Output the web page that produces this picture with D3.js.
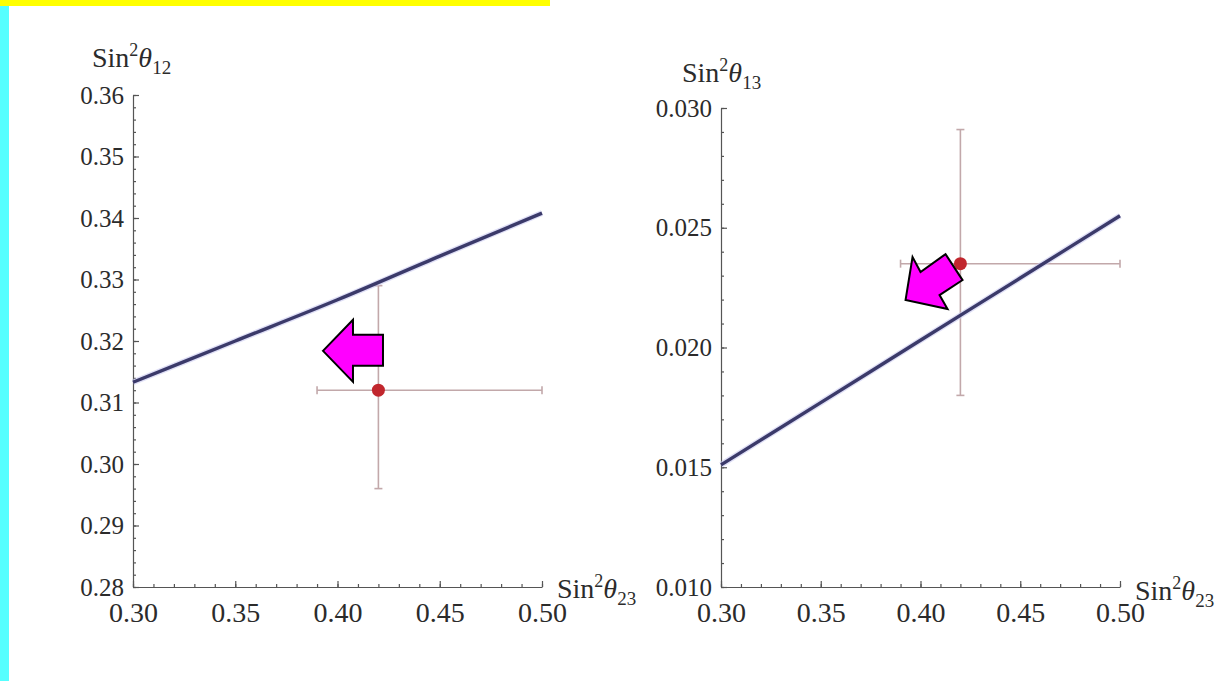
<!DOCTYPE html>
<html>
<head>
<meta charset="utf-8">
<script src="https://cdn.jsdelivr.net/npm/d3@7"></script>
<style>
  body { margin: 0; background: #fff; }
  svg { display: block; }
  text { font-family: "Liberation Serif", "DejaVu Serif", serif; fill: #2b2b2b; }
</style>
</head>
<body>
<svg id="chart" width="1232" height="681"></svg>
<script>
// shared x variable: sin^2 theta23
const s23Values = [0.30, 0.35, 0.40, 0.45, 0.50];
const s23Ticks = [0.30, 0.35, 0.40, 0.45, 0.50];

// left panel: sin^2 theta12 prediction
const s12Curve = [0.3133, 0.3200, 0.3267, 0.3338, 0.3408];
const s12Ticks = [0.28, 0.29, 0.30, 0.31, 0.32, 0.33, 0.34, 0.35, 0.36];

// right panel: sin^2 theta13 prediction
const s13Curve = [0.0151, 0.0177, 0.0203, 0.0229, 0.0255];
const s13Ticks = [0.010, 0.015, 0.020, 0.025, 0.030];

// experimental best fit with ranges
const fit23 = 0.42, fit23Range = [0.39, 0.50];
const fit12 = 0.312, fit12Range = [0.296, 0.329];
const fit13 = 0.0235, fit13Range = [0.018, 0.0291];

// arrow annotation tips (data coords)
const arrowTip12 = [0.3929, 0.3184];
const arrowTip13 = [0.3925, 0.02198];

const svg = d3.select("#chart");

// slide decorations
svg.append("rect").attr("x", 0).attr("y", 0).attr("width", 550).attr("height", 6).attr("fill", "#ffff00");
svg.append("rect").attr("x", 0).attr("y", 6).attr("width", 9).attr("height", 675).attr("fill", "#55ffff");

function minorTicks(domain, step) {
    const out = [];
    const n = Math.round((domain[1] - domain[0]) / step);
    for (let i = 0; i <= n; i++) out.push(+(domain[0] + i * step).toFixed(5));
    return out;
}

function drawPanel(p) {
    const x = d3.scaleLinear().domain([0.30, 0.50]).range(p.xRange);
    const y = d3.scaleLinear().domain(p.yDomain).range(p.yRange);
    const g = svg.append("g");

    // minor ticks
    g.append("g")
        .attr("transform", `translate(0,${p.yRange[0]})`)
        .call(d3.axisBottom(x).tickValues(minorTicks([0.30, 0.50], 0.01)).tickFormat("").tickSize(-3).tickSizeOuter(0))
        .call(a => a.select(".domain").remove());
    g.append("g")
        .attr("transform", `translate(${p.xRange[0]},0)`)
        .call(d3.axisLeft(y).tickValues(minorTicks(p.yDomain, p.yMinor)).tickFormat("").tickSize(-3).tickSizeOuter(0))
        .call(a => a.select(".domain").remove());

    // major axes
    const xAxis = g.append("g")
        .attr("transform", `translate(0,${p.yRange[0]})`)
        .call(d3.axisBottom(x).tickValues(s23Ticks).tickFormat(d3.format(".2f")).tickSize(-6).tickSizeOuter(0).tickPadding(15));
    xAxis.selectAll("text").attr("font-size", 28).attr("fill", "#2b2b2b")
        .attr("font-family", "Liberation Serif").attr("dy", "0.72em");

    const yAxis = g.append("g")
        .attr("transform", `translate(${p.xRange[0]},0)`)
        .call(d3.axisLeft(y).tickValues(p.yTicks).tickFormat(d3.format(p.yFmt)).tickSize(-6).tickSizeOuter(0).tickPadding(9));
    yAxis.selectAll("text").attr("font-size", 25).attr("fill", "#2b2b2b")
        .attr("font-family", "Liberation Serif");

    g.selectAll(".domain, .tick line").attr("stroke", "#555").attr("stroke-width", 1.2);

    // axis titles
    const yt = g.append("text").attr("x", p.yTitle[0]).attr("y", p.yTitle[1]).attr("font-size", 28);
    yt.append("tspan").text("Sin");
    yt.append("tspan").attr("dy", -11).attr("font-size", 18).text("2");
    yt.append("tspan").attr("dy", 11).attr("font-style", "italic").text("θ");
    yt.append("tspan").attr("dy", 7).attr("font-size", 19).text(p.sub);

    const xt = g.append("text").attr("x", p.xTitle[0]).attr("y", p.xTitle[1]).attr("font-size", 28);
    xt.append("tspan").text("Sin");
    xt.append("tspan").attr("dy", -11).attr("font-size", 18).text("2");
    xt.append("tspan").attr("dy", 11).attr("font-style", "italic").text("θ");
    xt.append("tspan").attr("dy", 7).attr("font-size", 19).text("23");

    // error bars
    const eb = g.append("g").attr("stroke", "#c2a8aa").attr("stroke-width", 1.6);
    eb.append("line").attr("x1", x(fit23Range[0])).attr("x2", x(fit23Range[1]))
        .attr("y1", y(p.fit)).attr("y2", y(p.fit));
    eb.append("line").attr("x1", x(fit23)).attr("x2", x(fit23))
        .attr("y1", y(p.fitRange[0])).attr("y2", y(p.fitRange[1]));
    fit23Range.forEach(v => eb.append("line").attr("x1", x(v)).attr("x2", x(v))
        .attr("y1", y(p.fit) - 4).attr("y2", y(p.fit) + 4));
    p.fitRange.forEach(v => eb.append("line").attr("x1", x(fit23) - 4).attr("x2", x(fit23) + 4)
        .attr("y1", y(v)).attr("y2", y(v)));

    // prediction curve
    const line = d3.line().x((d, i) => x(s23Values[i])).y(d => y(d)).curve(d3.curveMonotoneX);
    g.append("path").datum(p.curve)
        .attr("d", line).attr("fill", "none")
        .attr("stroke", "#c9c9f0").attr("stroke-width", 6).attr("stroke-opacity", 0.6);
    g.append("path").datum(p.curve)
        .attr("d", line).attr("fill", "none")
        .attr("stroke", "#3b3a6a").attr("stroke-width", 3.4);

    // best fit dot
    g.append("circle").attr("cx", x(fit23)).attr("cy", y(p.fit)).attr("r", 6.5).attr("fill", "#c1262d");

    // arrow annotation
    g.append("polygon")
        .attr("transform", `translate(${x(p.arrowTip[0])},${y(p.arrowTip[1])})`)
        .attr("points", p.arrowShape.map(d => d.join(",")).join(" "))
        .attr("fill", "#ff00ff").attr("stroke", "#000").attr("stroke-width", 2).attr("stroke-linejoin", "miter");
}

drawPanel({
    xRange: [133, 542], yRange: [587, 95], yDomain: [0.28, 0.36], yMinor: 0.002,
    yTicks: s12Ticks, yFmt: ".2f", curve: s12Curve, sub: "12",
    fit: fit12, fitRange: fit12Range,
    yTitle: [92, 67], xTitle: [557, 598],
    arrowTip: arrowTip12,
    arrowShape: [[0, 0], [30, -31], [30, -16], [60, -16], [60, 15], [30, 15], [30, 31]]
});

drawPanel({
    xRange: [721, 1120], yRange: [587, 108], yDomain: [0.010, 0.030], yMinor: 0.001,
    yTicks: s13Ticks, yFmt: ".3f", curve: s13Curve, sub: "13",
    fit: fit13, fitRange: fit13Range,
    yTitle: [682, 82], xTitle: [1135, 600],
    arrowTip: arrowTip13,
    arrowShape: [[0, 0], [7, -43], [15, -28], [40, -46], [57, -20], [34, -5], [42, 9]]
});
</script>
</body>
</html>
